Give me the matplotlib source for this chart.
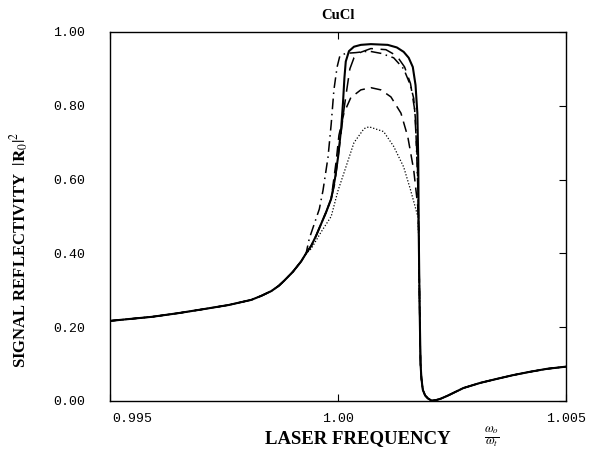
import numpy as np
import matplotlib.pyplot as plt
from matplotlib.transforms import ScaledTranslation

## CuCl signal reflectivity vs laser frequency

plt.rcParams['mathtext.fontset'] = 'stix'

# shared wings (all curves coincide here)
freq_left = [0.99500, 0.99592, 0.99650, 0.99701, 0.99760, 0.99810, 0.99832, 0.99854, 0.99870,
             0.99882, 0.99901, 0.99919, 0.99930]
refl_left = [0.217, 0.228, 0.238, 0.248, 0.260, 0.274, 0.285, 0.298, 0.312,
             0.326, 0.350, 0.378, 0.400]

freq_right = [1.00179, 1.00181, 1.00183, 1.00186, 1.00191, 1.00197, 1.00205, 1.00214,
              1.00225, 1.00240, 1.00275, 1.00312, 1.00349, 1.00384, 1.00421, 1.00458, 1.00500]
refl_right = [0.25, 0.10, 0.06, 0.03, 0.015, 0.007, 0.001, 0.002,
              0.006, 0.014, 0.035, 0.049, 0.060, 0.070, 0.079, 0.087, 0.093]

# solid curve
freq_solid = [0.99941, 0.99952, 0.99963, 0.99974, 0.99985, 0.99993, 1.00000, 1.00007, 1.00011,
              1.00014, 1.00017, 1.00024, 1.00035, 1.00050, 1.00072, 1.00109, 1.00129, 1.00144,
              1.00155, 1.00164, 1.00170, 1.00174, 1.00176, 1.00177]
refl_solid = [0.420, 0.448, 0.480, 0.512, 0.548, 0.600, 0.660, 0.740, 0.810,
              0.875, 0.920, 0.948, 0.960, 0.965, 0.967, 0.965, 0.958, 0.946,
              0.930, 0.905, 0.856, 0.780, 0.650, 0.460]

# dash-dot curve
freq_dashdot = [0.99937, 0.99948, 0.99959, 0.99967, 0.99978, 0.99985, 0.99991, 0.99998, 1.00004,
                1.00017, 1.00039, 1.00068, 1.00094, 1.00122, 1.00144, 1.00159, 1.00166,
                1.00170, 1.00175, 1.00177]
refl_dashdot = [0.440, 0.480, 0.520, 0.570, 0.660, 0.750, 0.843, 0.905, 0.935,
                0.942, 0.944, 0.948, 0.942, 0.930, 0.900, 0.855, 0.820,
                0.760, 0.580, 0.460]

# long-dash curve (upper)
freq_longdash = [0.99941, 0.99952, 0.99963, 0.99974, 0.99985, 0.99993, 1.00000, 1.00007, 1.00013,
                 1.00020, 1.00026, 1.00035, 1.00050, 1.00072, 1.00105, 1.00129, 1.00146,
                 1.00159, 1.00168, 1.00174, 1.00177]
refl_longdash = [0.420, 0.448, 0.480, 0.512, 0.548, 0.590, 0.660, 0.730, 0.790,
                 0.850, 0.900, 0.930, 0.945, 0.955, 0.952, 0.935, 0.905,
                 0.860, 0.790, 0.650, 0.460]

# dashed curve (peak ~0.85)
freq_dashed = [0.99941, 0.99952, 0.99963, 0.99974, 0.99985, 0.99996, 1.00002, 1.00013, 1.00028,
               1.00050, 1.00072, 1.00094, 1.00116, 1.00138, 1.00153, 1.00166, 1.00175, 1.00177]
refl_dashed = [0.420, 0.448, 0.480, 0.512, 0.548, 0.650, 0.720, 0.780, 0.822,
               0.843, 0.849, 0.843, 0.824, 0.780, 0.716, 0.626, 0.526, 0.460]

# dotted curve (peak ~0.74)
freq_dotted = [0.99941, 0.99963, 0.99985, 1.00000, 1.00013, 1.00035, 1.00057, 1.00068, 1.00100,
               1.00122, 1.00144, 1.00159, 1.00175, 1.00177]
refl_dotted = [0.412, 0.458, 0.500, 0.570, 0.618, 0.700, 0.738, 0.743, 0.730,
               0.690, 0.634, 0.572, 0.500, 0.440]

xticks = [0.995, 1.00, 1.005]
xtick_labels = ['0.995', '1.00', '1.005']
yticks = [0.0, 0.2, 0.4, 0.6, 0.8, 1.0]
ytick_labels = ['0.00', '0.20', '0.40', '0.60', '0.80', '1.00']


def full(mid_x, mid_y):
    x = np.concatenate([freq_left, mid_x, freq_right])
    y = np.concatenate([refl_left, mid_y, refl_right])
    return x, y


fig = plt.figure(figsize=(5.98, 4.5), dpi=100)
ax = fig.add_axes([0.184, 0.109, 0.7625, 0.82])

ax.plot(*full(freq_dotted, refl_dotted), color='black', lw=0.9, linestyle=(0, (1, 1.5)))
ax.plot(*full(freq_dashed, refl_dashed), color='black', lw=1.1, linestyle=(0, (7, 4)))
ax.plot(*full(freq_longdash, refl_longdash), color='black', lw=1.1, linestyle=(0, (9, 5)))
ax.plot(*full(freq_dashdot, refl_dashdot), color='black', lw=1.1, linestyle=(0, (7, 3, 1, 3)))
ax.plot(*full(freq_solid, refl_solid), color='black', lw=1.5)

ax.set_xlim(0.995, 1.005)
ax.set_ylim(0.0, 1.0)

mono = 'Liberation Mono'
serif = 'Liberation Serif'
ax.set_xticks(xticks)
ax.set_xticklabels(xtick_labels, fontfamily=mono, fontsize=9.5)
ax.set_yticks(yticks)
ax.set_yticklabels(ytick_labels, fontfamily=mono, fontsize=9.5)
ax.tick_params(axis='x', direction='in', top=True, bottom=True, length=5, pad=9)
ax.tick_params(axis='y', direction='in', left=False, right=True, length=5, pad=18)

# first x label sits to the right of the corner
lbl = ax.get_xticklabels()[0]
lbl.set_transform(lbl.get_transform() + ScaledTranslation(0.22, 0, fig.dpi_scale_trans))

for s in ax.spines.values():
    s.set_linewidth(1.0)

ax.set_title('CuCl', fontfamily=serif, fontweight='bold', fontsize=10.5, pad=9)
ax.set_xlabel('LASER FREQUENCY', fontfamily=serif, fontweight='bold', fontsize=13.5,
              va='center')
ax.xaxis.set_label_coords(0.544, -0.102)
ax.text(0.838, -0.098, r'$\frac{\omega_o}{\omega_t}$', transform=ax.transAxes,
        fontsize=13, ha='center', va='center')
ax.set_ylabel(r'SIGNAL REFLECTIVITY  $|\mathbf{R}_0|^2$', fontfamily=serif,
              fontweight='bold', fontsize=12, va='center')
ax.yaxis.set_label_coords(-0.197, 0.41)

fig.savefig('out.png', dpi=100)
